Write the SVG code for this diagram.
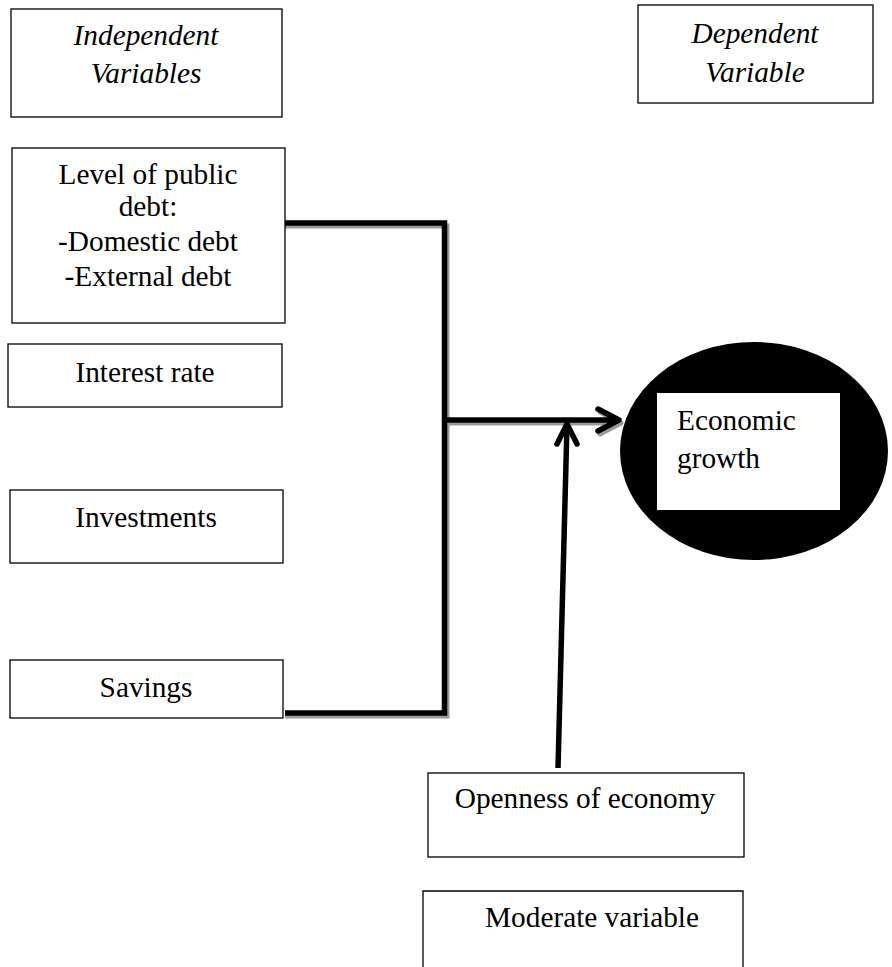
<svg xmlns="http://www.w3.org/2000/svg" width="892" height="967" viewBox="0 0 892 967">
<defs>
<style>
.box{fill:#fff;stroke:#000;stroke-width:1.3}
.t{font-family:"Liberation Serif","Times New Roman",serif;font-size:29.3px;fill:#000}
.i{font-style:italic}
.m{text-anchor:middle}
.ln{fill:none;stroke:#000;stroke-width:5.5;stroke-linecap:butt;stroke-linejoin:miter}
.sh{fill:none;stroke:#9a9a9a;stroke-width:5;stroke-linejoin:miter}
.ah{fill:none;stroke:#000;stroke-width:5.5;stroke-linecap:round;stroke-linejoin:round}
.ahs{fill:none;stroke:#9a9a9a;stroke-width:5;stroke-linecap:round;stroke-linejoin:round}
</style>
</defs>
<rect width="892" height="967" fill="#fff"/>

<g id="connectors">
  <path class="sh" d="M285,226 H447 V716 H285"/>
  <path class="sh" d="M447,423 H617"/>
  <path class="ahs" d="M600,412 L621,423 L600,434"/>
  <path class="ln" d="M285,223 H444.5 V713 H285"/>
  <path class="ln" d="M444.5,420 H617"/>
  <path class="ah" d="M598,409 L619,420 L598,431"/>
  <path class="ln" d="M558,768 L567,425"/>
  <path class="ah" d="M557,444 L567,424 L577,444"/>
</g>

<g id="independent-header">
  <rect class="box" x="11" y="9" width="271" height="108"/>
  <text class="t i m" x="146" y="45">Independent</text>
  <text class="t i m" x="146" y="83">Variables</text>
</g>

<g id="dependent-header">
  <rect class="box" x="638" y="5" width="235" height="98"/>
  <text class="t i m" x="755" y="43">Dependent</text>
  <text class="t i m" x="755" y="82">Variable</text>
</g>

<g id="public-debt">
  <rect class="box" x="12" y="148" width="273" height="175"/>
  <text class="t m" x="148" y="184">Level of public</text>
  <text class="t m" x="148" y="216">debt:</text>
  <text class="t m" x="148" y="251">-Domestic debt</text>
  <text class="t m" x="148" y="286">-External debt</text>
</g>

<g id="interest-rate">
  <rect class="box" x="8" y="344" width="274" height="63"/>
  <text class="t m" x="145" y="382">Interest rate</text>
</g>

<g id="investments">
  <rect class="box" x="10" y="490" width="273" height="73"/>
  <text class="t m" x="146" y="527">Investments</text>
</g>

<g id="savings">
  <rect class="box" x="10" y="660" width="273" height="58"/>
  <text class="t m" x="146" y="697">Savings</text>
</g>

<g id="economic-growth">
  <ellipse cx="754" cy="451" rx="134" ry="109" fill="#000"/>
  <rect x="657" y="393" width="183" height="117" fill="#fff"/>
  <text class="t" x="677" y="430">Economic</text>
  <text class="t" x="677" y="468">growth</text>
</g>

<g id="openness">
  <rect class="box" x="428" y="773" width="316" height="84"/>
  <text class="t m" x="585" y="808">Openness of economy</text>
</g>

<g id="moderate">
  <path class="box" d="M423,968 V891 H743 V968"/>
  <text class="t m" x="592" y="927">Moderate variable</text>
</g>
</svg>
